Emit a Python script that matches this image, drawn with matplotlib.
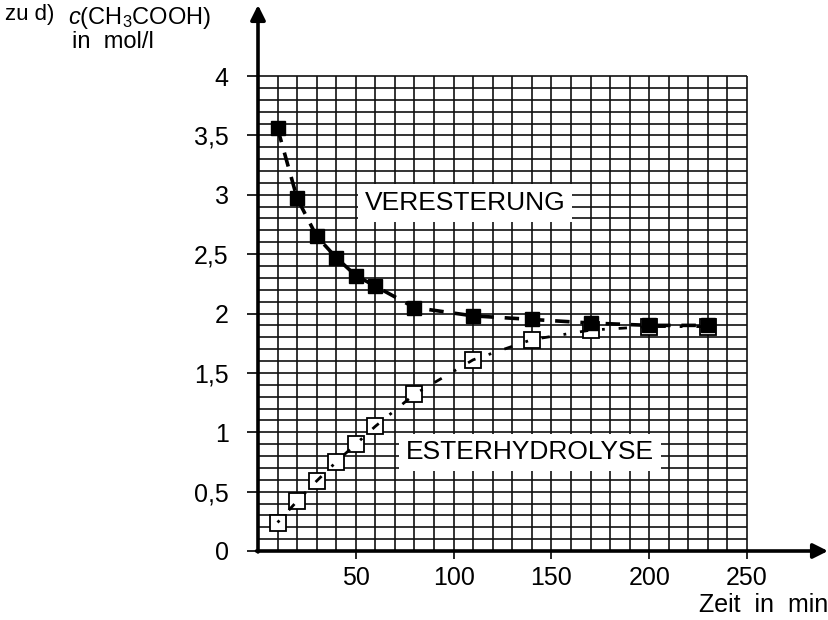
"""
Essigsaeure-Konzentration bei Veresterung und Esterhydrolyse.
"""
import matplotlib
matplotlib.use('Agg')
import matplotlib.pyplot as plt
import numpy as np

plt.rcParams['font.family'] = ['Liberation Sans', 'DejaVu Sans']
plt.rcParams['mathtext.fontset'] = 'custom'
plt.rcParams['mathtext.rm'] = 'Liberation Sans'
plt.rcParams['mathtext.it'] = 'Liberation Sans:italic'

zeit = [10, 20, 30, 40, 50, 60, 80, 110, 140, 170, 200, 230]
veresterung = [3.56, 2.97, 2.65, 2.47, 2.32, 2.23, 2.05, 1.98, 1.95, 1.92, 1.90, 1.90]
hydrolyse = [0.24, 0.42, 0.59, 0.75, 0.90, 1.05, 1.32, 1.61, 1.78, 1.86, 1.89, 1.89]

x_ticks = [50, 100, 150, 200, 250]
y_ticks = [0, 0.5, 1, 1.5, 2, 2.5, 3, 3.5, 4]
y_labels = ['0', '0,5', '1', '1,5', '2', '2,5', '3', '3,5', '4']

W, H = 829, 620
fig = plt.figure(figsize=(W / 100, H / 100), dpi=100)
ax = fig.add_axes([258 / W, 69 / H, 489 / W, 475 / H])
ax.set_xlim(0, 250)
ax.set_ylim(0, 4)

# Millimeterpapier-Raster
ax.vlines(np.arange(10, 251, 10), 0, 4, color='#111111', lw=1.2, zorder=1, clip_on=False)
ax.hlines(np.arange(0.1, 4.01, 0.1), 0, 250, color='#111111', lw=1.2, zorder=1, clip_on=False)

for s in ['top', 'right', 'left', 'bottom']:
    ax.spines[s].set_visible(False)

ax.set_xticks(x_ticks)
ax.set_yticks(y_ticks)
ax.set_yticklabels(y_labels)
ax.tick_params(axis='x', direction='out', length=6, width=1.2, pad=5, labelsize=18)
ax.tick_params(axis='y', direction='out', length=8, width=1.2, pad=13, labelsize=18)

# Achsenpfeile
ax.annotate('', xy=(0, 1 + 71 / 475), xytext=(0, -0.002), xycoords='axes fraction',
            arrowprops=dict(arrowstyle='-|>', lw=2.6, mutation_scale=22, color='black',
                            shrinkA=0, shrinkB=0))
ax.annotate('', xy=(1 + 81 / 489, 0), xytext=(-0.003, 0), xycoords='axes fraction',
            arrowprops=dict(arrowstyle='-|>', lw=2.6, mutation_scale=22, color='black',
                            shrinkA=0, shrinkB=0))

# Kurven
ax.plot(zeit, veresterung, color='black', lw=2.6, ls=(0, (4, 3)), zorder=3, clip_on=False)
ax.plot(zeit, veresterung, ls='none', marker='s', ms=10, mfc='black', mec='black',
        zorder=5, clip_on=False)
ax.plot(zeit, hydrolyse, ls='none', marker='s', ms=11, mfc='white', mec='black', mew=1.3,
        zorder=3, clip_on=False)
ax.plot(zeit, hydrolyse, color='black', lw=2.0, ls=(0, (1, 5, 3, 5)), zorder=4, clip_on=False)

box = dict(boxstyle='square,pad=0.25', fc='white', ec='none')
ax.text(106, 2.93, 'VERESTERUNG', fontsize=19, ha='center', va='center', bbox=box, zorder=6)
ax.text(139, 0.83, 'ESTERHYDROLYSE', fontsize=19, ha='center', va='center', bbox=box, zorder=6)

# Beschriftungen
fig.text(5 / W, 1 - 20 / H, 'zu d)', fontsize=16, ha='left', va='baseline')
fig.text(68 / W, 1 - 24 / H, r'$c$(CH$_3$COOH)', fontsize=17, ha='left', va='baseline')
fig.text(72 / W, 1 - 48 / H, 'in  mol/l', fontsize=17, ha='left', va='baseline')
fig.text(828 / W, 1 - 605 / H, 'Zeit  in  min', fontsize=18, ha='right', va='center')

fig.savefig('out.png', dpi=100)
plt.close(fig)
